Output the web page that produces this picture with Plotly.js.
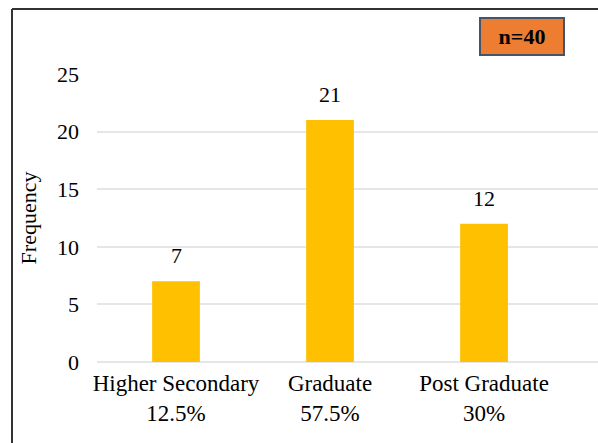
<!DOCTYPE html>
<html><head><meta charset="utf-8">
<script src="https://cdn.plot.ly/plotly-3.0.1.min.js"></script>
<style>html,body{margin:0;padding:0;background:#fff;}#chart{width:598px;height:443px;}</style>
</head><body><div id="chart"></div>
<script>
const categories = ["Higher Secondary", "Graduate", "Post Graduate"];
const percents = ["12.5%", "57.5%", "30%"];
const frequency = [7, 21, 12];
const sampleLabel = "n=40";

const tickText = categories.map((c, i) => c + "<br>" + percents[i]);
const font = "Times New Roman";

const W = 598, H = 443, ml = 97, mr = 0, mt = 74, mb = 81;
const pw = W - ml - mr, ph = H - mt - mb;
const px = x => (x - ml) / pw;
const py = y => 1 - (y - mt) / ph;

const trace = {
  type: "bar",
  x: categories,
  y: frequency,
  width: 0.31,
  marker: {color: "#FFC000"},
  hoverinfo: "none"
};

const annotations = categories.map((c, i) => ({
  x: c, y: frequency[i], xref: "x", yref: "y",
  text: String(frequency[i]), showarrow: false,
  yanchor: "bottom", yshift: 11,
  font: {family: font, size: 22, color: "#000"}
}));
annotations.push({
  xref: "paper", yref: "paper", x: px(522), y: py(37),
  text: "<b>" + sampleLabel + "</b>", showarrow: false,
  font: {family: font, size: 22, color: "#000"},
  bgcolor: "#ED7D31", bordercolor: "#44546A", borderwidth: 2,
  borderpad: 3, width: 76, height: 29,
  xanchor: "center", yanchor: "middle"
});

const layout = {
  width: W, height: H,
  margin: {l: ml, r: mr, t: mt, b: mb, pad: 0},
  paper_bgcolor: "#fff", plot_bgcolor: "#fff",
  showlegend: false,
  font: {family: font},
  xaxis: {
    type: "category", range: [-0.513, 2.74],
    tickmode: "array", tickvals: categories, ticktext: tickText,
    tickfont: {family: font, size: 23, color: "#000"},
    showgrid: false, showline: false, zeroline: false, ticks: "",
    ticklabelstandoff: 5,
    fixedrange: true
  },
  yaxis: {
    range: [0, 25], dtick: 5, tick0: 0,
    showgrid: true, gridcolor: "#E6E6E6", gridwidth: 2,
    zeroline: true, zerolinecolor: "#E6E6E6", zerolinewidth: 2,
    showline: false, ticks: "", ticklabelstandoff: 17,
    tickfont: {family: font, size: 22, color: "#000"},
    title: {text: "Frequency", font: {family: font, size: 22, color: "#000"}, standoff: 14},
    fixedrange: true
  },
  annotations: annotations,
  shapes: [
    {type: "line", xref: "paper", yref: "paper", x0: px(12), x1: px(600), y0: py(9), y1: py(9),
     line: {color: "#333", width: 2}},
    {type: "line", xref: "paper", yref: "paper", x0: px(12), x1: px(12), y0: py(9), y1: py(445),
     line: {color: "#333", width: 2}}
  ]
};

Plotly.newPlot("chart", [trace], layout, {staticPlot: true, displayModeBar: false});
</script></body></html>
